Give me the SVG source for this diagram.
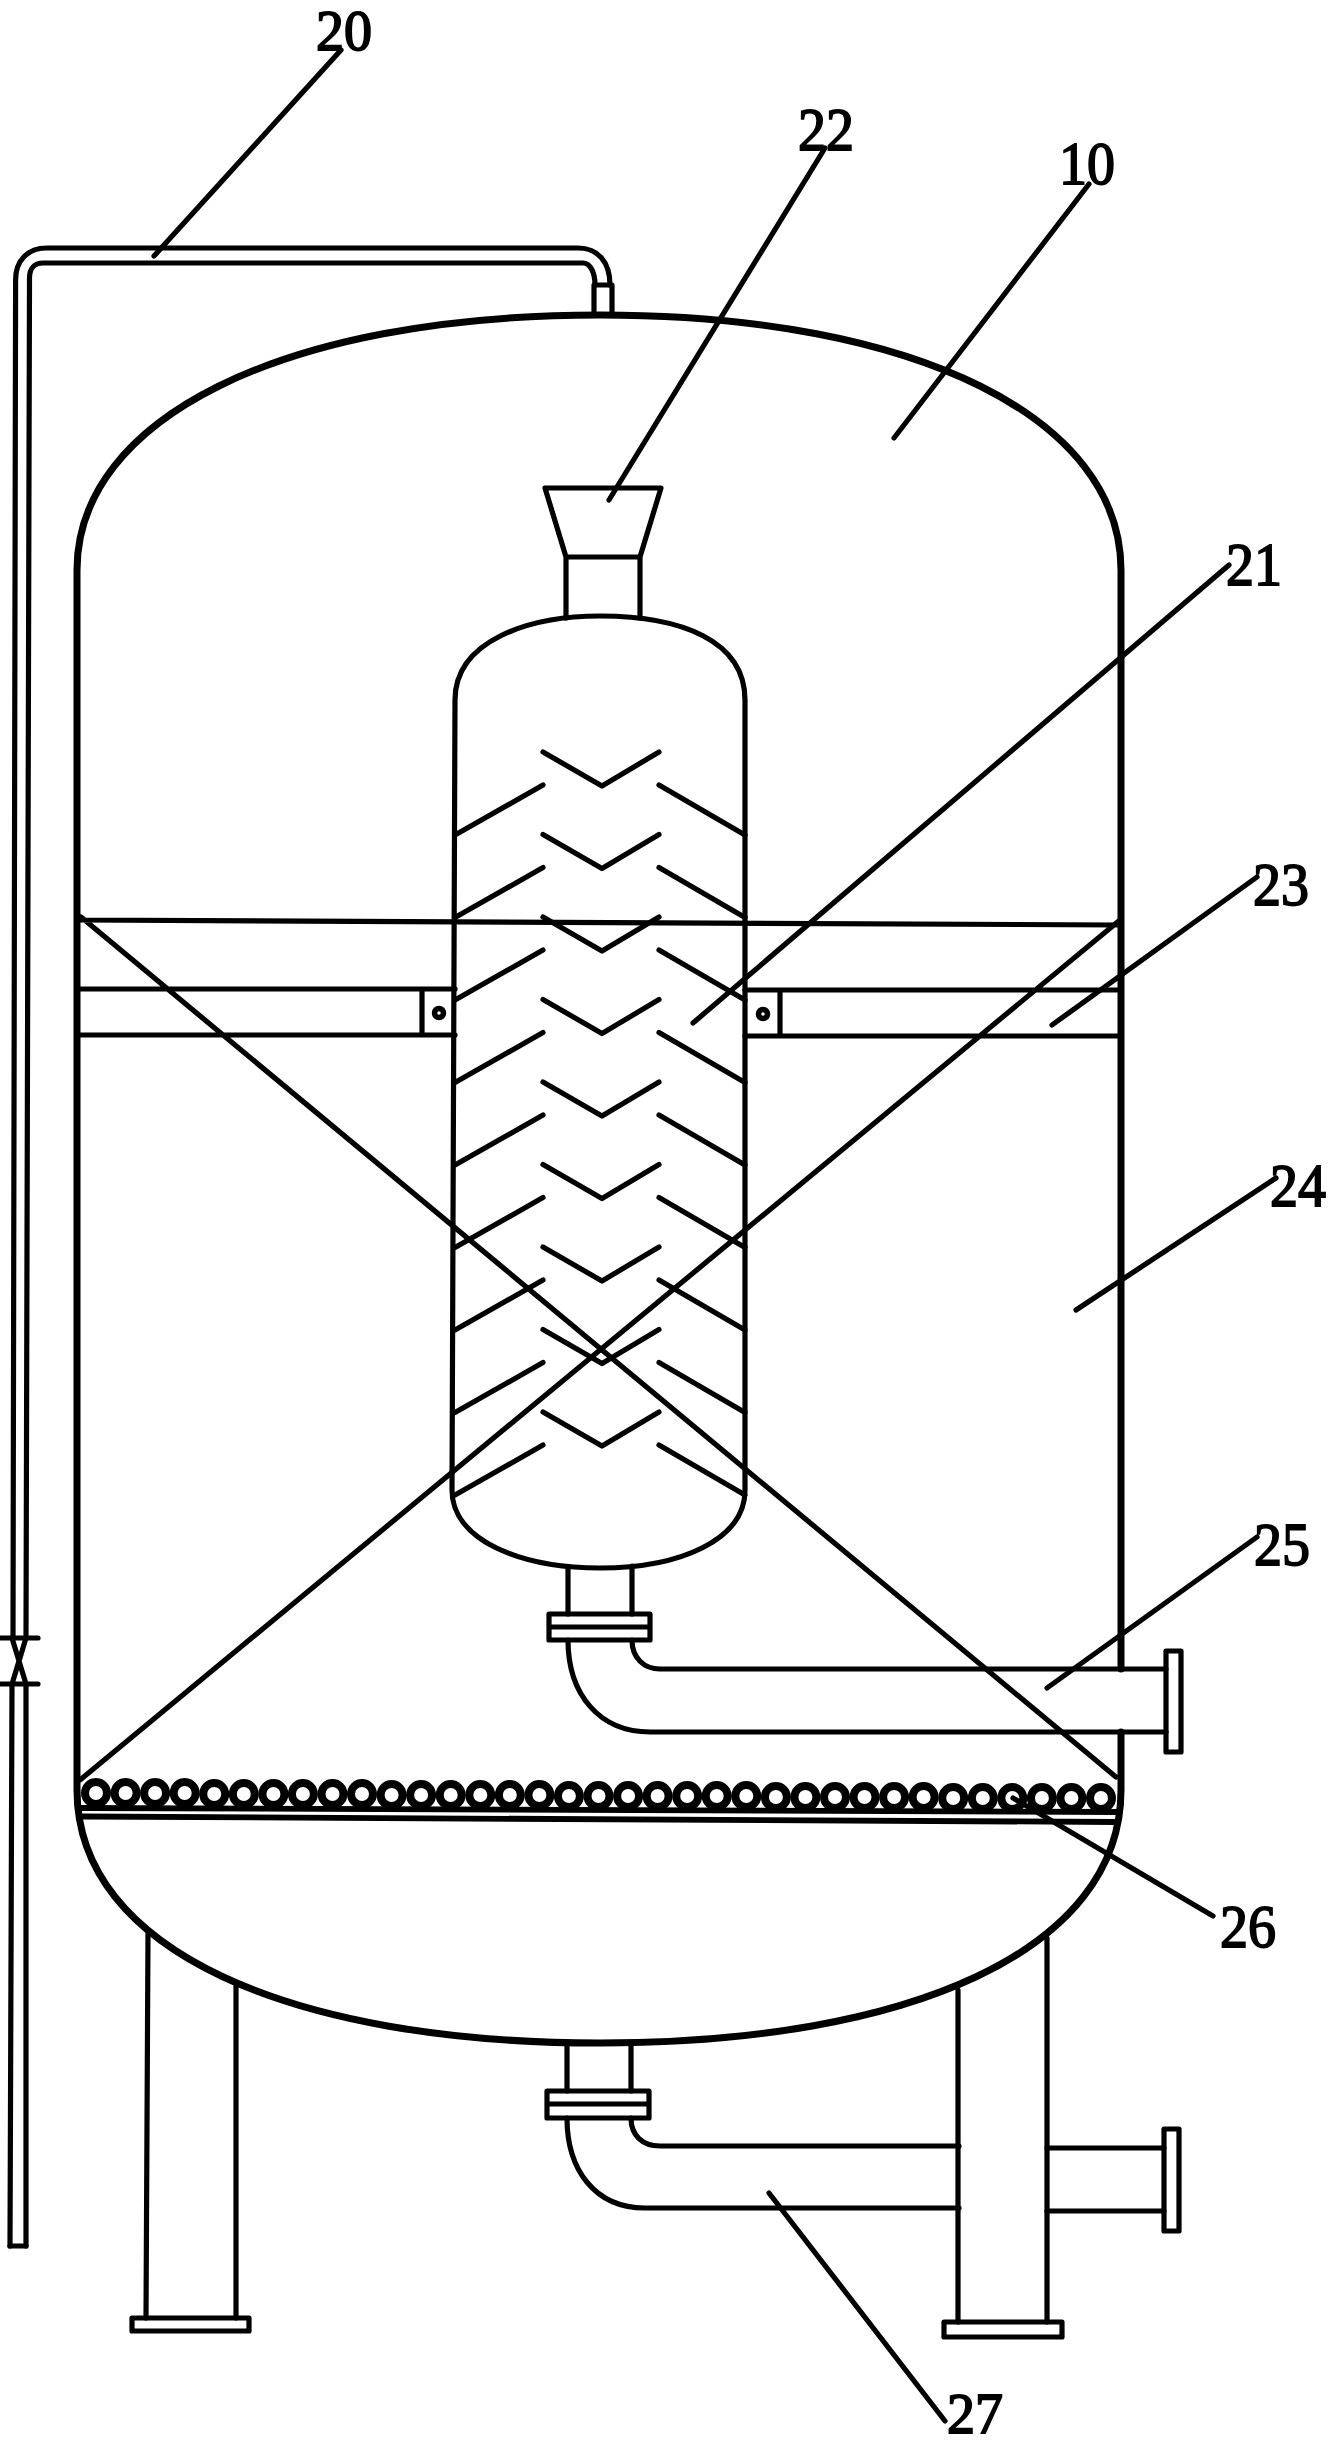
<svg xmlns="http://www.w3.org/2000/svg" width="1330" height="2446" viewBox="0 0 1330 2446">
<style>
.l{fill:none;stroke:#000;stroke-width:5.2;stroke-linecap:round;stroke-linejoin:round}
.v{fill:none;stroke:#000;stroke-width:7;stroke-linecap:round;stroke-linejoin:round}
.p{fill:none;stroke:#000;stroke-width:5.8;stroke-linecap:butt}
.c{fill:none;stroke:#000;stroke-width:8}
.b{fill:none;stroke:#000;stroke-width:5.5}
.t{font-family:"Liberation Serif",serif;font-size:62px;fill:#000;stroke:#000;stroke-width:1.8;text-anchor:middle}
.e{font-size:56px}
</style>
<defs>
<path id="chev" class="l" d="M543 752L602 786L659 752"/>
<path id="side" class="l" d="M455 835L543 785M659 785L745 835"/>
<circle id="coil" class="c" r="11"/>
</defs>
<rect width="1330" height="2446" fill="#fff"/>
<g id="vessel">
<path class="v" d="M77 1790V570C77 420 280 315 600 315C920 315 1121 420 1121 570V1669M1121 1732V1790C1121 1950 910 2043 600 2043C290 2043 77 1950 77 1790"/>
</g>
<g id="n20-pipe">
<path class="l" d="M10 2246L12 1684M13 1638L15.600 280C15.600 260 28 248 47 248H578C598 248 610 262 610 285M26 2246L26 1684M26 1638L29.500 278C29.500 269 34 263 43 263H583C590 263 595 272 595 285"/>
<path class="l" d="M10 2246H26M594 285H612V315M594 285V315"/>
<path class="l" d="M1 1638H38M1 1684H38M12 1638L26 1684M26 1638L12 1684"/>
</g>
<g id="n21-tube">
<path class="l" d="M455 700C455 640 530 616 600 616C680 616 745 640 745 700V1490C745 1540 680 1568 600 1568C520 1568 452 1540 452 1490Z"/>
<use href="#chev"/><use href="#chev" y="82.500"/><use href="#chev" y="165"/><use href="#chev" y="247.500"/><use href="#chev" y="330"/><use href="#chev" y="412.500"/><use href="#chev" y="495"/><use href="#chev" y="577.500"/><use href="#chev" y="660"/>
<use href="#side"/><use href="#side" y="82.500"/><use href="#side" y="165"/><use href="#side" y="247.500"/><use href="#side" y="330"/><use href="#side" y="412.500"/><use href="#side" y="495"/><use href="#side" y="577.500"/><use href="#side" y="660"/>
</g>
<g id="n22-funnel">
<path class="l" d="M545 488H661L640 557H566ZM566 557V618M640 557V618"/>
</g>
<g id="n23-support">
<path class="l" d="M79 920L1120 925M79 989H455M79 1035H455M745 990H1120M745 1036H1120M422 989V1035M780 990V1036M81 917L1116 1777M1120 920L80 1780"/>
<circle cx="439" cy="1013" r="4.500" class="b"/>
<circle cx="763" cy="1014" r="4.500" class="b"/>
</g>
<g id="n25-outlet">
<path class="l" d="M568 1568V1614M632 1566V1614M632 1640C632 1658 644 1669 660 1669H1166M568 1640C568 1695 600 1732 650 1732H1166"/>
<path class="l" d="M549 1614H650V1640H549ZM549 1627H650M1166 1651H1181V1752H1166Z"/>
</g>
<g id="n26-coils">
<use href="#coil" x="96" y="1793"/><use href="#coil" x="125.600" y="1793"/><use href="#coil" x="155.100" y="1793"/><use href="#coil" x="184.700" y="1793"/><use href="#coil" x="214.200" y="1794"/><use href="#coil" x="243.800" y="1794"/><use href="#coil" x="273.400" y="1794"/><use href="#coil" x="302.900" y="1794"/><use href="#coil" x="332.500" y="1794"/><use href="#coil" x="362" y="1794"/><use href="#coil" x="391.600" y="1795"/><use href="#coil" x="421.100" y="1795"/><use href="#coil" x="450.700" y="1795"/><use href="#coil" x="480.300" y="1795"/><use href="#coil" x="509.800" y="1795"/><use href="#coil" x="539.400" y="1795"/><use href="#coil" x="568.900" y="1796"/><use href="#coil" x="598.500" y="1796"/><use href="#coil" x="628.100" y="1796"/><use href="#coil" x="657.600" y="1796"/><use href="#coil" x="687.200" y="1796"/><use href="#coil" x="716.700" y="1796"/><use href="#coil" x="746.300" y="1796"/><use href="#coil" x="775.900" y="1797"/><use href="#coil" x="805.400" y="1797"/><use href="#coil" x="835" y="1797"/><use href="#coil" x="864.500" y="1797"/><use href="#coil" x="894.100" y="1797"/><use href="#coil" x="923.600" y="1797"/><use href="#coil" x="953.200" y="1798"/><use href="#coil" x="982.800" y="1798"/><use href="#coil" x="1012.300" y="1798"/><use href="#coil" x="1041.900" y="1798"/><use href="#coil" x="1071.400" y="1798"/><use href="#coil" x="1101" y="1798"/>
<path class="p" d="M80 1808L1118 1812M82 1816.500L1116 1822"/>
</g>
<g id="n27-drain">
<path class="l" d="M567 2045V2091M631 2045V2091M631 2118C631 2135 642 2146 660 2146H959M567 2118C567 2170 595 2208 645 2208H959M1047 2148H1164M1047 2211H1164"/>
<path class="l" d="M547 2091H649V2118H547ZM547 2104H649M1164 2129H1179V2231H1164Z"/>
</g>
<g id="legs">
<path class="l" d="M148 1934L146 2318M236 1986V2318M958 1990V2322M1047 1938V2322"/>
<path class="l" d="M132 2318H249V2331H132ZM944 2322H1062V2337H944Z"/>
</g>
<g id="connectors">
<path class="l" d="M154 256L341 50M609 500L825 148M894 438L1089 184M693 1023L1229 565M1052 1025L1257 877M1076 1310L1276 1178M1047 1688L1257 1537M1013 1798L1213 1916M769 2193L945 2421"/>
</g>
<g id="labels">
<text class="t e" x="344" y="50" textLength="56" lengthAdjust="spacingAndGlyphs">20</text>
<text class="t" x="826" y="150" textLength="56" lengthAdjust="spacingAndGlyphs">22</text>
<text class="t" x="1087" y="184" textLength="56" lengthAdjust="spacingAndGlyphs">10</text>
<text class="t" x="1254" y="585" textLength="56" lengthAdjust="spacingAndGlyphs">21</text>
<text class="t" x="1281" y="905" textLength="56" lengthAdjust="spacingAndGlyphs">23</text>
<text class="t" x="1298" y="1206" textLength="56" lengthAdjust="spacingAndGlyphs">24</text>
<text class="t" x="1282" y="1565" textLength="56" lengthAdjust="spacingAndGlyphs">25</text>
<text class="t" x="1248" y="1947" textLength="56" lengthAdjust="spacingAndGlyphs">26</text>
<text class="t e" x="975" y="2433" textLength="56" lengthAdjust="spacingAndGlyphs">27</text>
</g>
</svg>
